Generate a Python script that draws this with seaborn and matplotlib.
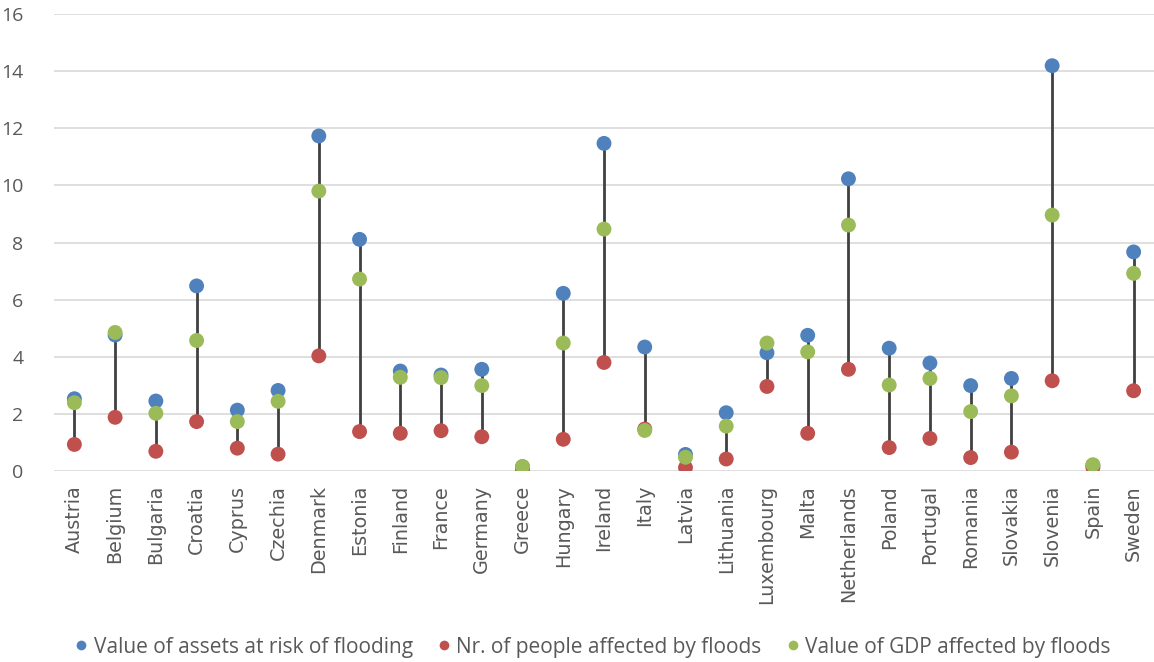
import numpy as np
import pandas as pd
import matplotlib
matplotlib.use("Agg")
import matplotlib.pyplot as plt
from matplotlib.lines import Line2D
import seaborn as sns

countries = ["Austria", "Belgium", "Bulgaria", "Croatia", "Cyprus", "Czechia",
             "Denmark", "Estonia", "Finland", "France", "Germany", "Greece",
             "Hungary", "Ireland", "Italy", "Latvia", "Lithuania", "Luxembourg",
             "Malta", "Netherlands", "Poland", "Portugal", "Romania", "Slovakia",
             "Slovenia", "Spain", "Sweden"]

assets = [2.53, 4.76, 2.45, 6.48, 2.13, 2.82, 11.73, 8.11, 3.50, 3.36, 3.56, 0.15,
          6.22, 11.47, 4.34, 0.58, 2.04, 4.14, 4.75, 10.23, 4.30, 3.78, 2.99, 3.24,
          14.19, 0.20, 7.67]
people = [0.93, 1.88, 0.69, 1.73, 0.80, 0.59, 4.03, 1.38, 1.32, 1.41, 1.20, 0.04,
          1.11, 3.80, 1.47, 0.12, 0.42, 2.96, 1.32, 3.56, 0.82, 1.14, 0.47, 0.66,
          3.16, 0.12, 2.81]
gdp = [2.39, 4.85, 2.02, 4.57, 1.73, 2.44, 9.80, 6.72, 3.28, 3.27, 2.99, 0.16,
       4.48, 8.47, 1.42, 0.48, 1.57, 4.48, 4.17, 8.61, 3.01, 3.24, 2.08, 2.63,
       8.96, 0.22, 6.92]

series_names = ["Value of assets at risk of flooding",
                "Nr. of people affected by floods",
                "Value of GDP affected by floods"]
series_colors = ["#4F81BD", "#C0504D", "#9BBB59"]

text_color = "#595959"

sns.set_theme(style="white")
plt.rcParams["font.family"] = ["Open Sans", "DejaVu Sans"]

df = pd.DataFrame({
    "country": countries * 3,
    "value": assets + people + gdp,
    "series": [series_names[0]] * len(countries)
              + [series_names[1]] * len(countries)
              + [series_names[2]] * len(countries),
})
df["pos"] = df["country"].map({c: i for i, c in enumerate(countries)})

fig = plt.figure(figsize=(11.54, 6.62), dpi=100)
ax = fig.add_axes([54 / 1154, 1 - 471 / 662, 1 - 54 / 1154, (471 - 14) / 662])

# high-low connectors spanning the three measures of each country
lo = np.minimum.reduce([assets, people, gdp])
hi = np.maximum.reduce([assets, people, gdp])
x = np.arange(len(countries))
ax.vlines(x, lo, hi, color="#404040", linewidth=2, zorder=2)

sns.scatterplot(data=df, x="pos", y="value", hue="series",
                hue_order=series_names, palette=series_colors,
                s=115, linewidth=0, edgecolor="none", legend=False,
                zorder=3, ax=ax)

ax.set_xlim(-0.5, len(countries) - 0.5)
ax.set_ylim(0, 16)
ax.set_yticks(np.arange(0, 17, 2))
ax.set_xticks(x)
ax.set_xticklabels(countries, rotation=90, ha="center", va="top",
                   family=["DejaVu Sans"])
ax.tick_params(axis="both", length=0, colors=text_color)
ax.tick_params(axis="y", pad=22, labelsize=14)
ax.tick_params(axis="x", pad=10, labelsize=13.8)
ax.set_xlabel("")
ax.set_ylabel("")
ax.grid(axis="y", color="#D9D9D9", linewidth=1.2)
ax.set_axisbelow(True)
for side in ["top", "right", "left", "bottom"]:
    ax.spines[side].set_visible(False)

handles = [Line2D([], [], linestyle="none", marker="o", markersize=7,
                  markerfacecolor=c, markeredgewidth=0) for c in series_colors]
fig.legend(handles, series_names, loc="center", ncol=3,
           bbox_to_anchor=(0.512, 1 - 647 / 662), frameon=False,
           fontsize=15, labelcolor=text_color, handletextpad=0.1,
           columnspacing=1.0, handlelength=1.0)

fig.savefig("out.png", dpi=100, facecolor="white")
